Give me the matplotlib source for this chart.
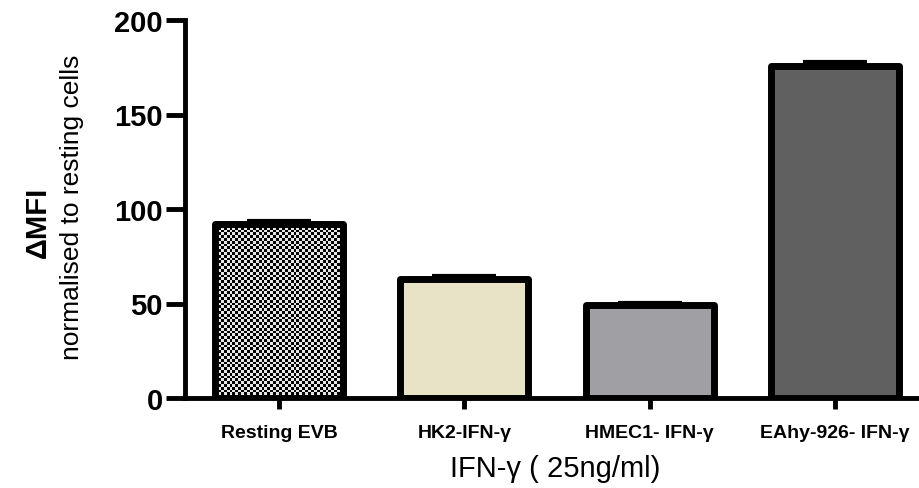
import numpy as np
import matplotlib
matplotlib.use("Agg")
import matplotlib.pyplot as plt

plt.rcParams['font.family'] = ['Liberation Sans', 'DejaVu Sans']

# Data
categories = ["Resting EVB", "HK2-IFN-γ", "HMEC1- IFN-γ", "EAhy-926- IFN-γ"]
mfi_values = [92.0, 63.0, 49.0, 175.5]
mfi_errors = [1.5, 1.5, 1.5, 2.5]
bar_colors = ["#808080", "#E8E2C6", "#A09FA4", "#606060"]
y_ticks = [0, 50, 100, 150, 200]

fig = plt.figure(figsize=(9.2, 4.89), dpi=100)
ax = fig.add_axes([185 / 920, 1 - 399 / 489, 1 - 185 / 920, (399 - 21) / 489])

x = np.arange(len(categories))
bars = ax.bar(x, mfi_values, width=0.69, color=bar_colors, edgecolor="black",
              linewidth=5, zorder=3)
for b in bars:
    b.set_joinstyle("round")

# Checkerboard fill for the resting bar
first = bars[0]
bx, by = first.get_x(), first.get_y()
bw, bh = first.get_width(), first.get_height()
ny, nx = 62, 44
checker = (np.indices((ny, nx)).sum(axis=0) % 2).astype(float)
img = ax.imshow(checker, cmap=matplotlib.colors.ListedColormap(["#000000", "#e6e6e6"]),
                extent=(bx, bx + bw, by, by + bh), aspect="auto",
                interpolation="nearest", zorder=2.5)
img.set_clip_path(first)
first.set_facecolor("none")

# One-sided error bars (upper only)
ax.errorbar(x, mfi_values, yerr=[np.zeros(len(mfi_errors)), mfi_errors],
            fmt="none", ecolor="black", elinewidth=2.5, capsize=23, capthick=3,
            zorder=2)

ax.set_xlim(-0.507, 3.459)
ax.set_ylim(0, 200)
ax.set_yticks(y_ticks)
ax.set_xticks(x)
ax.set_xticklabels(categories, fontsize=14, fontweight="bold")
ax.set_yticklabels([str(v) for v in y_ticks], fontsize=21, fontweight="bold")

for side in ("top", "right"):
    ax.spines[side].set_visible(False)
for side in ("left", "bottom"):
    ax.spines[side].set_linewidth(3.5)
    ax.spines[side].set_capstyle("projecting")

ax.tick_params(axis="y", length=14, width=3.5, pad=2)
ax.tick_params(axis="x", length=8, width=3.5, pad=11)
ax.patch.set_visible(False)

fig.text(38 / 920, 1 - 222 / 489, "ΔMFI", rotation=90, ha="center", va="center",
         fontsize=21, fontweight="bold")
fig.text(72 / 920, 1 - 207 / 489, "normalised to resting cells", rotation=90,
         ha="center", va="center", fontsize=19)
fig.text(555 / 920, 1 - 469 / 489, "IFN-γ ( 25ng/ml)", ha="center", va="center",
         fontsize=21)

fig.savefig("out.png", dpi=100)
